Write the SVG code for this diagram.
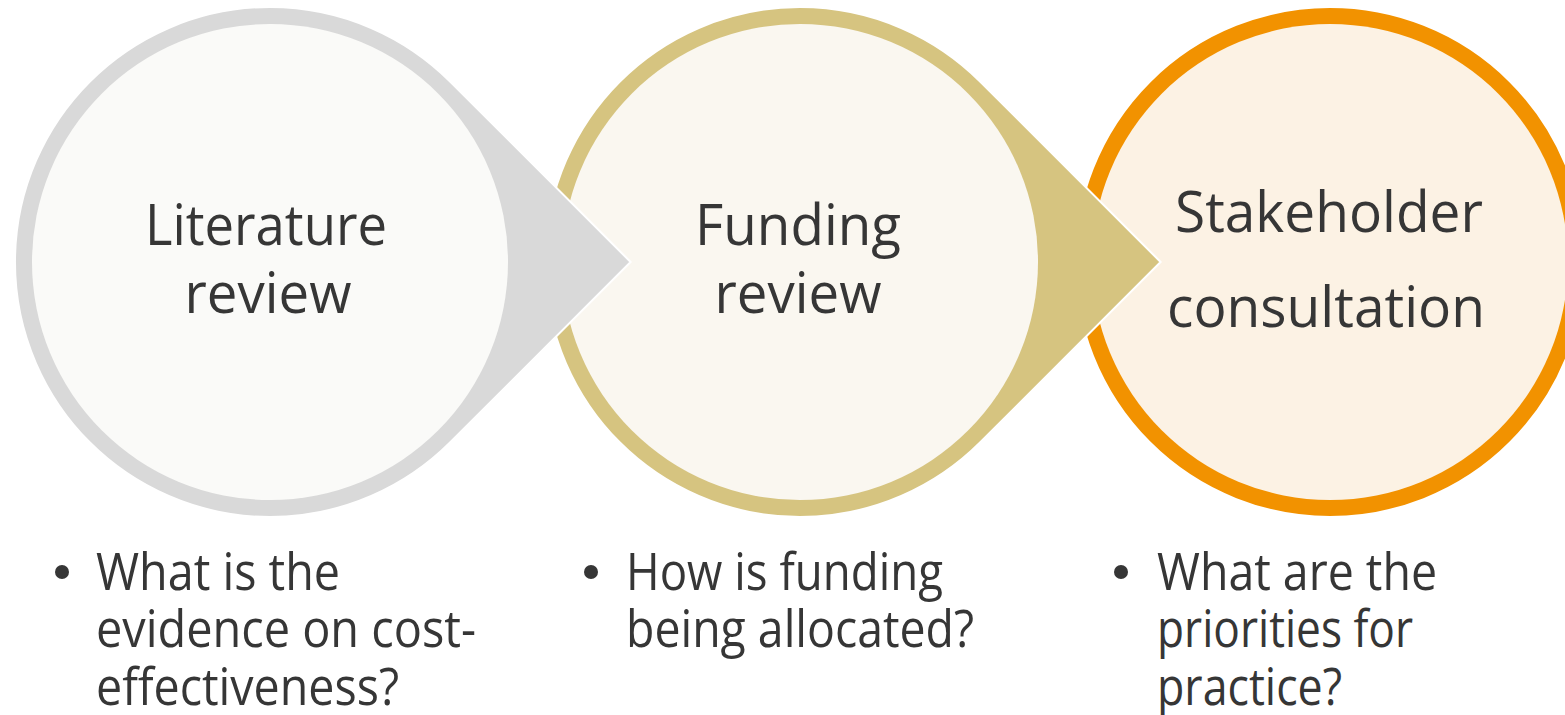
<svg xmlns="http://www.w3.org/2000/svg" width="1565" height="715" viewBox="0 0 1565 715">
  <style>
    .outer { stroke: #FFFFFF; stroke-width: 2; }
    .title { font-family: "Open Sans", "Noto Sans", sans-serif; font-size: 56px; fill: #363636; text-anchor: middle; }
    .bullet { font-family: "Open Sans", "Noto Sans", sans-serif; font-size: 51px; fill: #363636; }
    .dot { fill: #363636; }
  </style>
  <rect width="1565" height="715" fill="#FFFFFF"/>

  <g id="node-stakeholder">
    <circle class="outer" cx="1330" cy="262" r="255" fill="#F29200"/>
    <circle cx="1330" cy="262" r="238" fill="#FCF2E4"/>
    <text class="title" x="1329" y="232" textLength="308" lengthAdjust="spacingAndGlyphs">Stakeholder</text>
    <text class="title" x="1326" y="327" textLength="318" lengthAdjust="spacingAndGlyphs">consultation</text>
  </g>

  <g id="node-funding">
    <path class="outer" d="M1160.6 262 L980.3 81.7 A255 255 0 1 0 980.3 442.3 Z" fill="#D6C480"/>
    <circle cx="800" cy="262" r="238" fill="#FAF7F0"/>
    <text class="title" x="798" y="245" textLength="206" lengthAdjust="spacingAndGlyphs">Funding</text>
    <text class="title" x="798" y="313" textLength="167" lengthAdjust="spacingAndGlyphs">review</text>
  </g>

  <g id="node-literature">
    <path class="outer" d="M630.6 262 L450.3 81.7 A255 255 0 1 0 450.3 442.3 Z" fill="#D9D9D9"/>
    <circle cx="270" cy="262" r="238" fill="#FAFAF8"/>
    <text class="title" x="266" y="245" textLength="242" lengthAdjust="spacingAndGlyphs">Literature</text>
    <text class="title" x="268" y="313" textLength="167" lengthAdjust="spacingAndGlyphs">review</text>
  </g>

  <g id="connectors"></g>

  <g id="bullets-literature">
    <circle class="dot" cx="62" cy="572" r="7"/>
    <text class="bullet" x="96" y="590" textLength="244" lengthAdjust="spacingAndGlyphs">What is the</text>
    <text class="bullet" x="96" y="647" textLength="380" lengthAdjust="spacingAndGlyphs">evidence on cost-</text>
    <text class="bullet" x="96" y="705" textLength="303" lengthAdjust="spacingAndGlyphs">effectiveness?</text>
  </g>

  <g id="bullets-funding">
    <circle class="dot" cx="591" cy="572" r="7"/>
    <text class="bullet" x="626" y="590" textLength="317" lengthAdjust="spacingAndGlyphs">How is funding</text>
    <text class="bullet" x="626" y="647" textLength="348" lengthAdjust="spacingAndGlyphs">being allocated?</text>
  </g>

  <g id="bullets-stakeholder">
    <circle class="dot" cx="1121" cy="572" r="7"/>
    <text class="bullet" x="1157" y="590" textLength="280" lengthAdjust="spacingAndGlyphs">What are the</text>
    <text class="bullet" x="1157" y="647" textLength="256" lengthAdjust="spacingAndGlyphs">priorities for</text>
    <text class="bullet" x="1157" y="705" textLength="185" lengthAdjust="spacingAndGlyphs">practice?</text>
  </g>
</svg>
